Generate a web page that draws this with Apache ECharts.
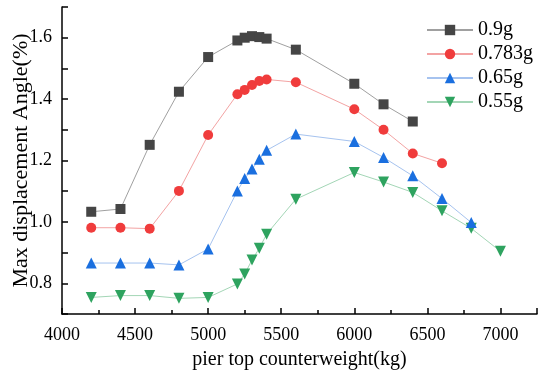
<!DOCTYPE html>
<html><head><meta charset="utf-8">
<script src="https://cdn.jsdelivr.net/npm/echarts@6/dist/echarts.min.js"></script>
<style>html,body{margin:0;padding:0;background:#fff}#c{width:550px;height:373px}</style>
</head><body><div id="c"></div>
<script>
var seriesNames = ['0.9g', '0.783g', '0.65g', '0.55g'];
var x09 = [4200, 4400, 4600, 4800, 5000, 5200, 5250, 5300, 5350, 5400, 5600, 6000, 6200, 6400];
var y09 = [1.033, 1.042, 1.251, 1.424, 1.537, 1.591, 1.600, 1.605, 1.602, 1.597, 1.561, 1.450, 1.383, 1.327];
var x0783 = [4200, 4400, 4600, 4800, 5000, 5200, 5250, 5300, 5350, 5400, 5600, 6000, 6200, 6400, 6600];
var y0783 = [0.981, 0.981, 0.978, 1.101, 1.283, 1.416, 1.430, 1.446, 1.459, 1.464, 1.455, 1.367, 1.300, 1.223, 1.191];
var x065 = [4200, 4400, 4600, 4800, 5000, 5200, 5250, 5300, 5350, 5400, 5600, 6000, 6200, 6400, 6600, 6800];
var y065 = [0.866, 0.866, 0.866, 0.860, 0.912, 1.101, 1.141, 1.172, 1.204, 1.233, 1.286, 1.262, 1.210, 1.150, 1.076, 0.998];
var x055 = [4200, 4400, 4600, 4800, 5000, 5200, 5250, 5300, 5350, 5400, 5600, 6000, 6200, 6400, 6600, 6800, 7000];
var y055 = [0.754, 0.760, 0.760, 0.751, 0.754, 0.798, 0.830, 0.876, 0.914, 0.960, 1.074, 1.161, 1.130, 1.096, 1.036, 0.979, 0.904];
var xTickLabels = ['4000', '4500', '5000', '5500', '6000', '6500', '7000'];
var yTickLabels = ['0.8', '1.0', '1.2', '1.4', '1.6'];

var font = "'Times New Roman', 'Liberation Serif', serif";
function pairs(xs, ys) { return xs.map(function (x, i) { return [x, ys[i]]; }); }
var markerColors = ['#454545', '#f03c3c', '#1a6fdf', '#2ea35f'];
var lineColors = ['#a0a0a0', '#f3a3a3', '#a6c3ef', '#a3d6b6'];
var symbols = ['rect', 'circle', 'triangle', 'path://M0,0 L10,0 L5,9 Z'];
var sizes = [10, 10, 11, 11];
var datas = [pairs(x09, y09), pairs(x0783, y0783), pairs(x065, y065), pairs(x055, y055)];

var series = seriesNames.map(function (n, i) {
  return {
    name: n, type: 'line', data: datas[i], symbol: symbols[i], symbolSize: sizes[i],
    showAllSymbol: true,
    itemStyle: { color: markerColors[i] },
    lineStyle: { color: lineColors[i], width: 1 },
    emphasis: { disabled: true }, animation: false, z: 10 - i
  };
});

var chart = echarts.init(document.getElementById('c'));
chart.setOption({
  animation: false,
  backgroundColor: '#fff',
  grid: { left: 62, right: 13, top: 7, bottom: 59, containLabel: false, outerBoundsMode: 'none' },
  legend: {
    data: seriesNames, orient: 'vertical', left: 421, top: 15, itemWidth: 46, itemHeight: 13,
    itemGap: 4,
    textStyle: { fontFamily: font, fontSize: 20, color: '#000', padding: [0, 0, 0, 0] }
  },
  xAxis: {
    type: 'value', min: 4000, max: 7250, interval: 500,
    name: 'pier top counterweight(kg)', nameLocation: 'middle', nameGap: 36, nameMoveOverlap: false,
    nameTextStyle: { fontFamily: font, fontSize: 20, color: '#000' },
    axisLine: { lineStyle: { color: '#000', width: 1.5 } },
    axisTick: { inside: true, length: 6, lineStyle: { color: '#000', width: 1.5 } },
    minorTick: { show: true, splitNumber: 2, length: 4, lineStyle: { color: '#000', width: 1.5 } },
    splitLine: { show: false },
    axisLabel: {
      fontFamily: font, fontSize: 18, color: '#000', margin: 12,
      formatter: function (v) { var s = String(v); return xTickLabels.indexOf(s) >= 0 ? s : ''; }
    }
  },
  yAxis: {
    type: 'value', min: 0.7, max: 1.7, interval: 0.1,
    name: 'Max displacement Angle(%)', nameLocation: 'middle', nameGap: 30, nameMoveOverlap: false,
    nameTextStyle: { fontFamily: font, fontSize: 22, color: '#000' },
    axisLine: { show: true, lineStyle: { color: '#000', width: 1.5 } },
    axisTick: { inside: true, length: 6, lineStyle: { color: '#000', width: 1.5 } },
    splitLine: { show: false },
    axisLabel: {
      fontFamily: font, fontSize: 18, color: '#000', margin: 10,
      formatter: function (v) { var s = (Math.round(v * 10) / 10).toFixed(1); return yTickLabels.indexOf(s) >= 0 ? s : ''; }
    }
  },
  series: series
});
</script></body></html>
